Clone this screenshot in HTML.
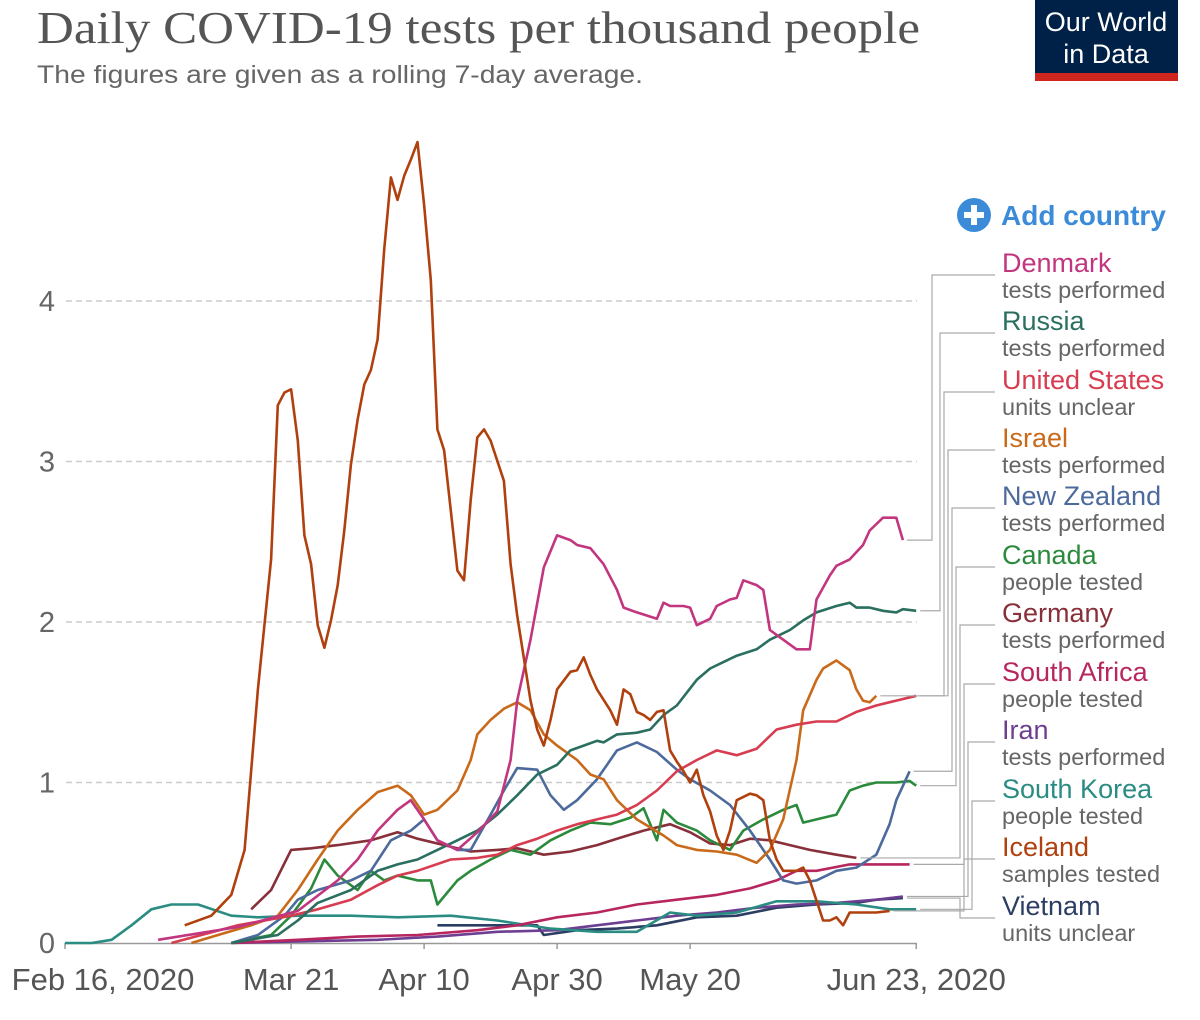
<!DOCTYPE html>
<html><head><meta charset="utf-8">
<style>
body{margin:0;background:#fff;width:1200px;height:1015px;overflow:hidden;font-family:"Liberation Sans",sans-serif;}
svg text{font-family:"Liberation Sans",sans-serif;}
</style></head>
<body>
<svg width="1200" height="1015" viewBox="0 0 1200 1015">
<text x="37" y="43" font-size="46" fill="#555" textLength="883" lengthAdjust="spacingAndGlyphs" style="font-family:'Liberation Serif',serif">Daily COVID-19 tests per thousand people</text>
<text x="37" y="83" font-size="25" fill="#666" textLength="606" lengthAdjust="spacingAndGlyphs">The figures are given as a rolling 7-day average.</text>
<g>
<rect x="1035" y="0" width="143" height="80" fill="#002147"/>
<rect x="1035" y="73" width="143" height="8" fill="#ce261e"/>
<text x="1106" y="31" font-size="27" fill="#fff" text-anchor="middle">Our World</text>
<text x="1106" y="63" font-size="27" fill="#fff" text-anchor="middle">in Data</text>
</g>
<g>
<circle cx="974" cy="215" r="17" fill="#3b8bd8"/>
<rect x="964" y="212" width="20" height="6" fill="#fff"/><rect x="971" y="205" width="6" height="20" fill="#fff"/>
<text x="1001" y="225" font-size="28" font-weight="bold" fill="#3b8bd8">Add country</text>
</g>
<g id="grid"></g>
<g id="axes"></g>
<g id="series"></g>
<g id="labels"></g>
</svg>
<script>
const yTicks=[0,1,2,3,4];
const xTickDays=[0,34,54,74,94,128];
const xTickLabels=["Feb 16, 2020","Mar 21","Apr 10","Apr 30","May 20","Jun 23, 2020"];
const seriesNames=["Denmark","Russia","United States","Israel","New Zealand","Canada","Germany","South Africa","Iran","South Korea","Iceland","Vietnam"];
const seriesSubs=["tests performed","tests performed","units unclear","tests performed","tests performed","people tested","tests performed","people tested","tests performed","people tested","samples tested","units unclear"];
const seriesColors=["#c2367f","#2a6f5f","#d73c50","#c96a1a","#4c6a9c","#2c8a3c","#883039","#b8265f","#6d3e91","#2a8c82","#b0400e","#2c3e63"];
const denmark=[[14,0.02],[26,0.1],[35,0.2],[41,0.39],[44,0.52],[47,0.7],[50,0.83],[52,0.89],[54,0.77],[56,0.64],[59,0.58],[62,0.69],[65,0.82],[67,1.14],[68,1.51],[70,1.89],[72,2.34],[74,2.54],[76,2.51],[77,2.48],[79,2.46],[81,2.36],[83,2.2],[84,2.09],[86,2.06],[89,2.02],[90,2.12],[91,2.1],[93,2.1],[94,2.09],[95,1.98],[97,2.02],[98,2.1],[100,2.14],[101,2.15],[102,2.26],[104,2.23],[105,2.2],[106,1.95],[108,1.89],[110,1.83],[112,1.83],[113,2.14],[115,2.29],[116,2.35],[118,2.39],[120,2.48],[121,2.57],[123,2.65],[125,2.65],[126,2.51]];
const russia=[[25,0],[32,0.05],[35,0.14],[38,0.25],[43,0.33],[47,0.45],[50,0.49],[53,0.52],[56,0.58],[59,0.64],[62,0.7],[65,0.8],[68,0.92],[71,1.05],[74,1.11],[76,1.2],[78,1.23],[80,1.26],[81,1.25],[83,1.3],[86,1.31],[88,1.33],[90,1.42],[92,1.48],[95,1.64],[97,1.71],[99,1.75],[101,1.79],[104,1.83],[106,1.89],[109,1.95],[111,2.01],[113,2.06],[116,2.1],[118,2.12],[119,2.09],[121,2.09],[123,2.07],[125,2.06],[126,2.08],[128,2.07]];
const unitedStates=[[16,0],[26,0.11],[34,0.17],[38,0.21],[43,0.27],[47,0.36],[50,0.42],[53,0.45],[58,0.52],[62,0.53],[65,0.55],[68,0.61],[71,0.65],[74,0.7],[77,0.74],[80,0.77],[83,0.8],[86,0.86],[89,0.95],[92,1.07],[95,1.14],[98,1.2],[101,1.17],[104,1.21],[107,1.33],[110,1.36],[113,1.38],[116,1.38],[119,1.44],[122,1.48],[125,1.51],[128,1.54]];
const israel=[[19,0],[23,0.05],[28,0.11],[32,0.17],[35,0.33],[38,0.52],[41,0.7],[44,0.83],[47,0.94],[50,0.98],[52,0.92],[54,0.8],[56,0.83],[59,0.95],[61,1.14],[62,1.3],[64,1.39],[66,1.46],[68,1.5],[70,1.45],[72,1.3],[74,1.23],[77,1.14],[79,1.05],[81,1.02],[83,0.89],[86,0.77],[88,0.72],[90,0.67],[92,0.61],[95,0.58],[98,0.57],[101,0.55],[104,0.5],[106,0.58],[108,0.77],[110,1.14],[111,1.45],[113,1.64],[114,1.71],[116,1.76],[118,1.7],[119,1.58],[120,1.51],[121,1.5],[122,1.54]];
const newZealand=[[25,0],[29,0.05],[33,0.17],[35,0.27],[38,0.33],[43,0.39],[46,0.45],[49,0.64],[52,0.7],[54,0.77],[56,0.64],[59,0.58],[61,0.58],[64,0.8],[66,0.95],[68,1.09],[71,1.08],[73,0.92],[75,0.83],[77,0.89],[80,1.02],[83,1.2],[86,1.25],[89,1.19],[92,1.08],[94,1.02],[97,0.95],[100,0.86],[103,0.7],[106,0.52],[108,0.39],[110,0.37],[113,0.39],[116,0.45],[119,0.47],[122,0.55],[124,0.74],[125,0.89],[127,1.07]];
const canada=[[25,0],[31,0.05],[34,0.17],[37,0.34],[39,0.52],[41,0.42],[44,0.33],[46,0.45],[48,0.39],[50,0.42],[53,0.39],[55,0.39],[56,0.24],[59,0.39],[61,0.45],[64,0.52],[67,0.58],[70,0.55],[73,0.64],[76,0.7],[79,0.75],[82,0.74],[85,0.78],[87,0.84],[89,0.64],[90,0.83],[92,0.75],[95,0.7],[97,0.64],[100,0.58],[102,0.7],[105,0.77],[108,0.83],[110,0.86],[111,0.75],[113,0.77],[116,0.8],[118,0.95],[120,0.98],[122,1.0],[125,1.0],[127,1.01],[128,0.98]];
const germany=[[28,0.21],[31,0.33],[34,0.58],[37,0.59],[41,0.61],[46,0.64],[50,0.69],[53,0.65],[57,0.61],[61,0.57],[65,0.58],[68,0.59],[72,0.55],[76,0.57],[80,0.61],[83,0.65],[87,0.7],[91,0.74],[94,0.69],[97,0.62],[100,0.61],[103,0.65],[106,0.64],[109,0.61],[112,0.58],[116,0.55],[119,0.53]];
const southAfrica=[[25,0],[35,0.02],[44,0.04],[53,0.05],[62,0.08],[68,0.11],[74,0.16],[80,0.19],[86,0.24],[92,0.27],[98,0.3],[103,0.34],[107,0.39],[110,0.45],[113,0.45],[118,0.49],[122,0.49],[127,0.49]];
const iran=[[25,0],[35,0.01],[47,0.02],[56,0.04],[65,0.07],[74,0.08],[80,0.11],[86,0.14],[92,0.17],[98,0.19],[104,0.22],[110,0.24],[116,0.25],[122,0.27],[126,0.29]];
const southKorea=[[0,0],[4,0],[7,0.02],[10,0.11],[13,0.21],[16,0.24],[20,0.24],[25,0.17],[29,0.16],[35,0.17],[43,0.17],[50,0.16],[58,0.17],[65,0.14],[73,0.09],[80,0.07],[86,0.07],[91,0.19],[95,0.17],[101,0.19],[107,0.26],[113,0.26],[119,0.24],[124,0.21],[128,0.21]];
const iceland=[[18,0.11],[22,0.17],[25,0.3],[27,0.58],[29,1.58],[31,2.39],[32,3.35],[33,3.43],[34,3.45],[35,3.13],[36,2.54],[37,2.36],[38,1.98],[39,1.84],[40,2.01],[41,2.23],[42,2.57],[43,2.98],[44,3.26],[45,3.48],[46,3.57],[47,3.76],[48,4.32],[49,4.77],[50,4.63],[51,4.78],[52,4.88],[53,4.99],[54,4.6],[55,4.13],[56,3.2],[57,3.07],[58,2.7],[59,2.32],[60,2.26],[61,2.76],[62,3.15],[63,3.2],[64,3.13],[66,2.88],[67,2.36],[68,2.04],[70,1.51],[71,1.33],[72,1.23],[73,1.39],[74,1.58],[76,1.69],[77,1.7],[78,1.78],[79,1.67],[80,1.58],[82,1.45],[83,1.36],[84,1.58],[85,1.55],[86,1.44],[87,1.42],[88,1.39],[89,1.44],[90,1.45],[91,1.2],[92,1.13],[93,1.07],[94,1.0],[95,1.08],[96,0.92],[97,0.82],[98,0.67],[99,0.58],[100,0.7],[101,0.89],[103,0.93],[104,0.92],[105,0.89],[106,0.64],[107,0.52],[108,0.45],[109,0.45],[110,0.45],[111,0.47],[112,0.39],[114,0.14],[115,0.14],[116,0.16],[117,0.11],[118,0.19],[120,0.19],[122,0.19],[124,0.2]];
const vietnam=[[56,0.11],[71,0.11],[72,0.05],[77,0.08],[83,0.09],[89,0.11],[95,0.16],[101,0.17],[107,0.22],[113,0.24],[119,0.25],[122,0.27],[126,0.28]];
const seriesData=[denmark,russia,unitedStates,israel,newZealand,canada,germany,southAfrica,iran,southKorea,iceland,vietnam];
const drawOrder=[11,8,9,7,6,5,4,3,2,1,0,10];

const X0=65,PXD=6.65,Y0=943,PXV=160.5;
const xs=d=>X0+d*PXD, ys=v=>Y0-v*PXV;
const NS="http://www.w3.org/2000/svg";
function mk(tag,attrs,parent){const e=document.createElementNS(NS,tag);for(const k in attrs)e.setAttribute(k,attrs[k]);parent.appendChild(e);return e;}
const grid=document.getElementById('grid'),axes=document.getElementById('axes'),ser=document.getElementById('series'),lab=document.getElementById('labels');
yTicks.forEach(v=>{
  if(v>0){const l=mk('line',{x1:66,x2:917,y1:ys(v),y2:ys(v),stroke:'#ccc','stroke-width':1.5,'stroke-dasharray':'6,4'},grid);
  
  }
  const t=mk('text',{x:55,y:ys(v)+10,'font-size':29,fill:'#666','text-anchor':'end'},axes);t.textContent=v;
  
  
});
const ax=mk('line',{x1:66,x2:917,y1:Y0+0.5,y2:Y0+0.5,stroke:'#999','stroke-width':1.5},axes);


xTickDays.forEach((d,i)=>{
  const tk=mk('line',{x1:xs(d),x2:xs(d),y1:Y0,y2:Y0+6,stroke:'#999','stroke-width':1.5},axes);
  
  
  let x=xs(d);
  if(i===0){x=xs(d)+38;}
  const t=mk('text',{x:x,y:990,'font-size':31,fill:'#555','text-anchor':'middle'},axes);t.textContent=xTickLabels[i];
  
  
});
drawOrder.forEach(i=>{
  const pts=seriesData[i].map(p=>xs(p[0]).toFixed(1)+','+ys(p[1]).toFixed(1)).join(' ');
  const pl=mk('polyline',{points:pts,fill:'none',stroke:seriesColors[i],'stroke-width':2.6,'stroke-linejoin':'round'},ser);
  
  
});
const labelY=[263,321,380,438,496,555,613,672,730,789,847,906];
const elbowX=[932,940,944,948,952,956,960,964,968,972,964,960];
seriesNames.forEach((n,i)=>{
  const d=seriesData[i],last=d[d.length-1];
  const ex=xs(last[0])+4,ey=ys(last[1]),ly=labelY[i]+12;
  const c=mk('polyline',{points:`${ex},${ey} ${elbowX[i]},${ey} ${elbowX[i]},${ly} 995,${ly}`,fill:'none',stroke:'#aaa','stroke-width':1.2},lab);
  
  
  const t=mk('text',{x:1002,y:labelY[i]+9,'font-size':27,fill:seriesColors[i]},lab);t.textContent=n;
  
  
  const s=mk('text',{x:1002,y:labelY[i]+35,'font-size':23.5,fill:'#666'},lab);s.textContent=seriesSubs[i];
  
  
});
</script>
</body></html>
